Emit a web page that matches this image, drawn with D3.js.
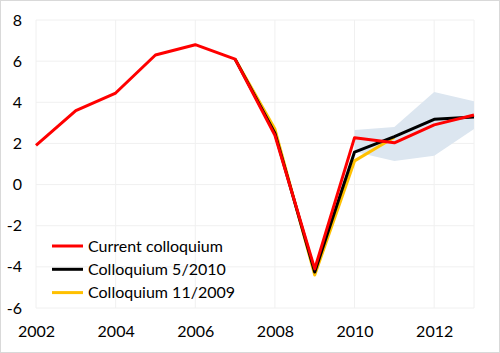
<!DOCTYPE html>
<html>
<head>
<meta charset="utf-8">
<script src="https://cdn.jsdelivr.net/npm/d3@7"></script>
<style>
  body { margin: 0; background: #fff; }
  svg text { font-family: Lato, "Open Sans", sans-serif; fill: #000; }
</style>
</head>
<body>
<div id="container"></div>
<script>
const years = [2002, 2003, 2004, 2005, 2006, 2007, 2008, 2009, 2010, 2011, 2012, 2013]
const current = [1.9, 3.6, 4.45, 6.3, 6.8, 6.1, 2.4, -4.1, 2.28, 2.03, 2.9, 3.38]
const coll2010Years = [2007, 2008, 2009, 2010, 2011, 2012, 2013]
const coll2010 = [6.1, 2.5, -4.25, 1.58, 2.33, 3.17, 3.28]
const coll2009Years = [2007, 2008, 2009, 2010, 2011]
const coll2009 = [6.1, 2.7, -4.4, 1.15, 2.3]
const bandYears = [2010, 2011, 2012, 2013]
const bandLow = [1.6, 1.15, 1.4, 2.7]
const bandHigh = [2.65, 2.8, 4.5, 4.05]
const yTicks = [8, 6, 4, 2, 0, -2, -4, -6]
const xTicks = [2002, 2004, 2006, 2008, 2010, 2012]
const seriesNames = ["Current colloquium", "Colloquium 5/2010", "Colloquium 11/2009"]
const colors = ["#ff0000", "#000000", "#ffc000"]

const width = 500, height = 353
const svg = d3.select("#container").append("svg")
    .attr("width", width)
    .attr("height", height)

svg.append("rect")
    .attr("x", 0.5).attr("y", 0.5)
    .attr("width", width - 1).attr("height", height - 1)
    .attr("fill", "#fff")
    .attr("stroke", "#d9d9d9")

const x = d3.scaleLinear().domain([2002, 2013]).range([36, 474])
const y = d3.scaleLinear().domain([-6, 8]).range([308, 20])

// grid
const grid = svg.append("g")
grid.selectAll(".hg").data(yTicks).enter().append("line")
    .attr("x1", x(2002)).attr("x2", x(2013))
    .attr("y1", d => y(d)).attr("y2", d => y(d))
    .attr("stroke", "#f0f0f0")
grid.selectAll(".vg").data(xTicks.concat([2013])).enter().append("line")
    .attr("x1", d => x(d)).attr("x2", d => x(d))
    .attr("y1", y(8)).attr("y2", y(-6))
    .attr("stroke", "#f0f0f0")

// axes labels
const yAxis = d3.axisLeft(y).tickValues(yTicks).tickFormat(d => String(d)).tickSize(0).tickPadding(14)
svg.append("g").attr("transform", `translate(${x(2002)},0)`).call(yAxis)
    .call(g => g.select(".domain").remove())
    .selectAll("text").style("font-size", "16px")

const xAxis = d3.axisBottom(x).tickValues(xTicks).tickFormat(d => String(d)).tickSize(0).tickPadding(18)
svg.append("g").attr("transform", `translate(0,${y(-6)})`).call(xAxis)
    .call(g => g.select(".domain").remove())
    .selectAll("text").style("font-size", "16px")

// band
const area = d3.area()
    .x((d, i) => x(bandYears[i]))
    .y0((d, i) => y(bandLow[i]))
    .y1((d, i) => y(bandHigh[i]))
svg.append("path")
    .datum(bandYears)
    .attr("d", area)
    .attr("fill", "#dce6f0")

const line = (xs, ys) => d3.line().x((d, i) => x(xs[i])).y((d, i) => y(ys[i]))(ys)

svg.append("path").attr("d", line(coll2009Years, coll2009))
    .attr("fill", "none").attr("stroke", colors[2]).attr("stroke-width", 3).attr("stroke-linejoin", "round")
svg.append("path").attr("d", line(coll2010Years, coll2010))
    .attr("fill", "none").attr("stroke", colors[1]).attr("stroke-width", 3).attr("stroke-linejoin", "round")
svg.append("path").attr("d", line(years, current))
    .attr("fill", "none").attr("stroke", colors[0]).attr("stroke-width", 3).attr("stroke-linejoin", "round")

// legend
const legend = svg.append("g").selectAll("g")
    .data(seriesNames).enter().append("g")
    .attr("transform", (d, i) => `translate(52,${246 + i * 23.3})`)
legend.append("line")
    .attr("x1", 0).attr("x2", 31)
    .attr("stroke", (d, i) => colors[i]).attr("stroke-width", 3)
legend.append("text")
    .attr("x", 36).attr("dy", "0.35em")
    .style("font-size", "16px")
    .text(d => d)
</script>
</body>
</html>
